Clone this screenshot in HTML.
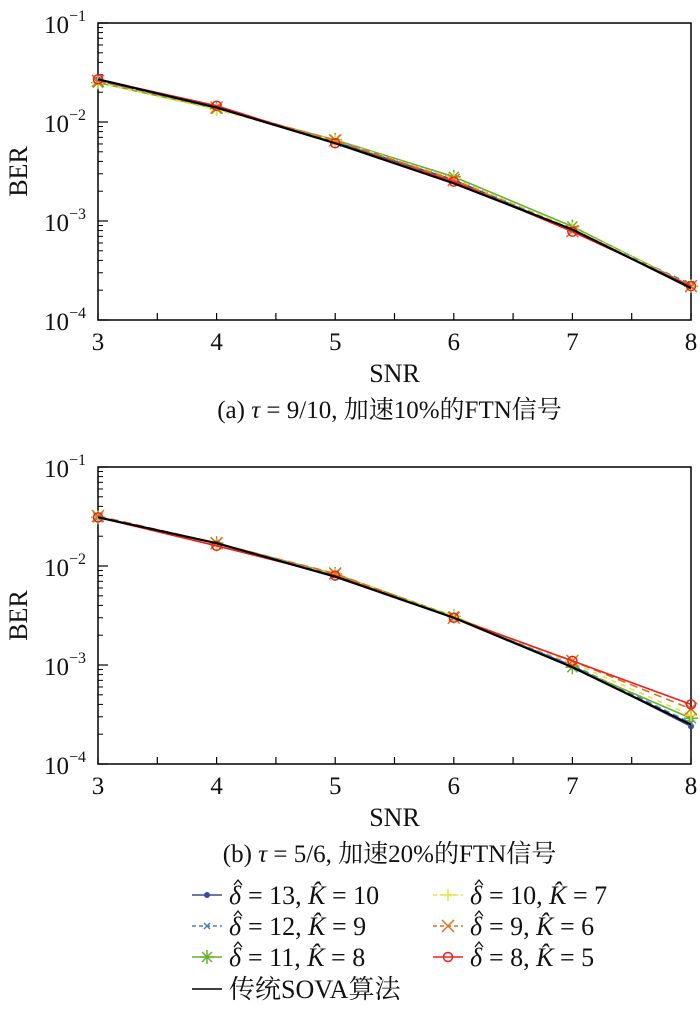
<!DOCTYPE html>
<html><head><meta charset="utf-8">
<style>
body{margin:0;background:#fff;}
svg text{font-family:"Liberation Serif","Noto Serif CJK SC",serif;fill:#111;}
</style></head>
<body>
<svg id="fig" width="700" height="1010" xmlns="http://www.w3.org/2000/svg"></svg>
<script>
const snr=[3,4,5,6,7,8];
const xTicks=[3,4,5,6,7,8];
const yExps=[-1,-2,-3,-4];
const seriesNames=["d13k10","d12k9","d11k8","d10k7","d9k6","d8k5","sova"];
const a1=[0.027,0.0140,0.0063,0.0026,0.00080,0.00022];
const a2=[0.026,0.0141,0.0064,0.0027,0.00082,0.00023];
const a3=[0.025,0.0136,0.0066,0.0028,0.00088,0.00022];
const a4=[0.025,0.0133,0.0065,0.0027,0.00085,0.00022];
const a5=[0.026,0.0140,0.0065,0.0026,0.00079,0.00022];
const a6=[0.027,0.0146,0.0061,0.0025,0.00078,0.00022];
const a7=[0.027,0.0140,0.0061,0.0024,0.00082,0.00021];
const b1=[0.031,0.017,0.0080,0.0030,0.00098,0.00024];
const b2=[0.031,0.017,0.0081,0.0030,0.00100,0.00026];
const b3=[0.031,0.017,0.0083,0.0031,0.00095,0.00029];
const b4=[0.031,0.016,0.0082,0.0031,0.00105,0.00031];
const b5=[0.032,0.017,0.0084,0.0030,0.00110,0.00036];
const b6=[0.031,0.016,0.0080,0.0030,0.00110,0.00040];
const b7=[0.031,0.017,0.0078,0.0030,0.00095,0.00025];
const colors=["#3a4a9a","#4a7fc0","#66b032","#e8e23a","#e07020","#ee2020","#000"];
const dashes=["","6,4","","5,5","8,5","",""];
const markers=["dot","x","star","plus","X","circle",""];
const NS="http://www.w3.org/2000/svg";
const svg=document.getElementById('fig');
function mk(t,at,p){const e=document.createElementNS(NS,t);for(const k in at)e.setAttribute(k,at[k]);(p||svg).appendChild(e);return e;}
function marker(g,type,cx,cy,c){
 if(type==="dot")mk('circle',{cx,cy,r:3,fill:c},g);
 else if(type==="circle")mk('circle',{cx,cy,r:4.5,fill:'none',stroke:c,'stroke-width':1.5},g);
 else if(type==="x"){mk('path',{d:`M${cx-3} ${cy-3}L${cx+3} ${cy+3}M${cx-3} ${cy+3}L${cx+3} ${cy-3}`,stroke:c,'stroke-width':1.5},g);}
 else if(type==="X"){mk('path',{d:`M${cx-6} ${cy-6}L${cx+6} ${cy+6}M${cx-6} ${cy+6}L${cx+6} ${cy-6}`,stroke:c,'stroke-width':1.5},g);}
 else if(type==="plus"){mk('path',{d:`M${cx-6} ${cy}L${cx+6} ${cy}M${cx} ${cy-6}L${cx} ${cy+6}`,stroke:c,'stroke-width':1.5},g);}
 else if(type==="star"){mk('path',{d:`M${cx-7} ${cy}L${cx+7} ${cy}M${cx} ${cy-7}L${cx} ${cy+7}M${cx-5} ${cy-5}L${cx+5} ${cy+5}M${cx-5} ${cy+5}L${cx+5} ${cy-5}`,stroke:c,'stroke-width':1.5},g);}
}
function chart(top,data,name,caption){
 const L=98,R=691,T=top,B=top+297;
 const xs=v=>L+(v-3)/5*(R-L);
 const ys=v=>T+(-1-Math.log10(v))/3*(B-T);
 const g=mk('g',{});
 
 
 mk('rect',{x:L,y:T,width:R-L,height:B-T,fill:'none',stroke:'#000','stroke-width':1.5},g);
 for(let e=-4;e<-1;e++)for(let m=2;m<10;m++){const y=ys(m*Math.pow(10,e));mk('line',{x1:L,x2:L+5,y1:y,y2:y,stroke:'#000','stroke-width':1},g);}
 for(let v=3.5;v<8;v+=1){mk('line',{x1:xs(v),x2:xs(v),y1:B,y2:B-7,stroke:'#000','stroke-width':1.2},g);}
 xTicks.forEach(v=>{mk('line',{x1:xs(v),x2:xs(v),y1:B,y2:B-7,stroke:'#000','stroke-width':1.2},g);
  const t=mk('text',{x:xs(v),y:B+30,'font-size':25,'text-anchor':'middle'},g);t.textContent=v;});
 yExps.forEach(e=>{const y=ys(Math.pow(10,e));mk('line',{x1:L,x2:L+10,y1:y,y2:y,stroke:'#000','stroke-width':1.2},g);
  const t=mk('text',{x:44,y:y+10,'font-size':25},g);t.textContent='10';
  const s=mk('tspan',{dy:-12,'font-size':16},t);s.textContent=String(e).replace('-','−');});
 const yl=mk('text',{x:0,y:0,'font-size':26,'text-anchor':'middle',transform:`translate(27,${(T+B)/2}) rotate(-90)`},g);yl.textContent='BER';
 
 const xl=mk('text',{x:(L+R)/2,y:B+62,'font-size':26,'text-anchor':'middle'},g);xl.textContent='SNR';
 
 const cp=mk('text',{x:(L+R)/2-5,y:B+98,'font-size':25,'text-anchor':'middle'},g);cp.innerHTML=caption;
 
 data.forEach((arr,i)=>{
  const sg=mk('g',{},g);
  
  
  mk('polyline',{points:arr.map((v,j)=>xs(snr[j])+','+ys(v)).join(' '),fill:'none',stroke:colors[i],'stroke-width':i===6?2.2:1.6,'stroke-dasharray':dashes[i]},sg);
  arr.forEach((v,j)=>marker(sg,markers[i],xs(snr[j]),ys(v),colors[i]));
 });
}
chart(23,[a1,a2,a3,a4,a5,a6,a7],'chart-a','(a) <tspan font-style="italic">τ</tspan> = 9/10, 加速10%的FTN信号');
chart(467,[b1,b2,b3,b4,b5,b6,b7],'chart-b','(b) <tspan font-style="italic">τ</tspan> = 5/6, 加速20%的FTN信号');
const leg=[[0,192,904,'= 13, ','10'],
[1,192,935,'= 12, ','9'],
[2,192,966,'= 11, ','8'],
[3,433,904,'= 10, ','7'],
[4,433,935,'= 9, ','6'],
[5,433,966,'= 8, ','5'],
[6,192,998,null,null]];
const lg=mk('g',{});


leg.forEach(([i,x,y,d,k])=>{
 const e=mk('g',{},lg);
 
 
 mk('line',{x1:x,x2:x+30,y1:y-9,y2:y-9,stroke:colors[i],'stroke-width':1.6,'stroke-dasharray':dashes[i]?'4,3':''},e);
 marker(e,markers[i],x+15,y-9,colors[i]);
 if(d===null){const t=mk('text',{x:x+37,y:y,'font-size':26},e);t.textContent='传统SOVA算法';return;}
 const dt=mk('text',{x:x+37,y:y,'font-size':26,'font-style':'italic'},e);dt.textContent='δ';
 mk('path',{d:`M${x+42} ${y-19}L${x+46} ${y-24}L${x+50} ${y-19}`,fill:'none',stroke:'#111','stroke-width':1.3},e);
 const t=mk('text',{x:x+56,y:y,'font-size':26},e);
 t.innerHTML=d+'<tspan font-style="italic">K̂</tspan> = '+k;
});
</script>
</body></html>
